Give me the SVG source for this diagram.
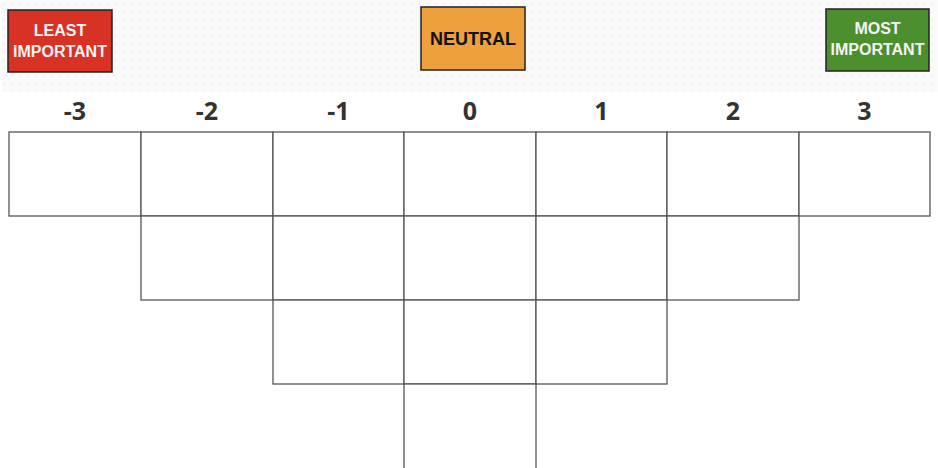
<svg xmlns="http://www.w3.org/2000/svg" width="938" height="468" viewBox="0 0 938 468">
<defs>
<pattern id="dots" x="0" y="0" width="8" height="8" patternUnits="userSpaceOnUse">
<rect width="8" height="8" fill="#fafafa"/>
<circle cx="4" cy="4" r="0.7" fill="#e2e2e2"/>
</pattern>
</defs>
<style>
.cell{fill:#fff;stroke:#555;stroke-width:1.3}
.box{stroke:#222;stroke-width:1.5}
.lbl{font-family:"Liberation Sans",Arial,sans-serif;font-weight:bold;font-size:16px;fill:#f4f4f4;text-anchor:middle}
.num{font-family:"Open Sans","Liberation Sans",sans-serif;font-weight:bold;font-size:25px;fill:#333;text-anchor:middle}
</style>
<rect x="0" y="0" width="938" height="468" fill="#fff"/>
<rect x="2" y="0" width="936" height="92" fill="url(#dots)"/>
<g id="least">
<rect class="box" x="8" y="10" width="104" height="62" fill="#d83224"/>
<text class="lbl" x="60" y="36">LEAST</text>
<text class="lbl" x="60" y="56.5">IMPORTANT</text>
</g>
<g id="neutral">
<rect class="box" x="421" y="7" width="104" height="63" fill="#eda03c"/>
<text class="lbl" x="473" y="45" style="fill:#111;font-size:18px">NEUTRAL</text>
</g>
<g id="most">
<rect class="box" x="826" y="9" width="103" height="62" fill="#4b8f2e"/>
<text class="lbl" x="877.5" y="34">MOST</text>
<text class="lbl" x="877.5" y="55">IMPORTANT</text>
</g>
<g id="scale">
<text class="num" x="75" y="120">-3</text>
<text class="num" x="207" y="120">-2</text>
<text class="num" x="338.5" y="120">-1</text>
<text class="num" x="470" y="120">0</text>
<text class="num" x="601.5" y="120">1</text>
<text class="num" x="733" y="120">2</text>
<text class="num" x="864.5" y="120">3</text>
</g>
<g id="grid">
<rect class="cell" x="9" y="132" width="132" height="84"/>
<rect class="cell" x="141" y="132" width="132" height="84"/>
<rect class="cell" x="273" y="132" width="131" height="84"/>
<rect class="cell" x="404" y="132" width="132" height="84"/>
<rect class="cell" x="536" y="132" width="131" height="84"/>
<rect class="cell" x="667" y="132" width="132" height="84"/>
<rect class="cell" x="799" y="132" width="131" height="84"/>
<rect class="cell" x="141" y="216" width="132" height="84"/>
<rect class="cell" x="273" y="216" width="131" height="84"/>
<rect class="cell" x="404" y="216" width="132" height="84"/>
<rect class="cell" x="536" y="216" width="131" height="84"/>
<rect class="cell" x="667" y="216" width="132" height="84"/>
<rect class="cell" x="273" y="300" width="131" height="84"/>
<rect class="cell" x="404" y="300" width="132" height="84"/>
<rect class="cell" x="536" y="300" width="131" height="84"/>
<rect class="cell" x="404" y="384" width="132" height="90"/>
</g>
</svg>
